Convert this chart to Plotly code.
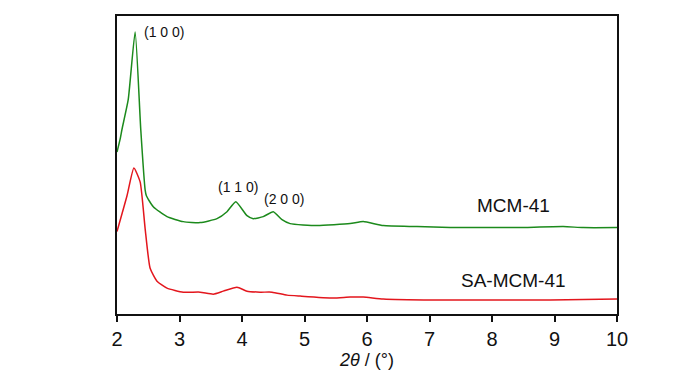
import plotly.graph_objects as go

# values (2theta in degrees, intensity in arbitrary units)
mcm_x = [2.00, 2.05, 2.08, 2.18, 2.29, 2.38, 2.45, 2.47, 2.58, 2.80, 3.06, 3.33, 3.60, 3.76, 3.90,
         4.08, 4.18, 4.34, 4.50, 4.64, 4.77, 5.20, 5.73, 5.94, 6.26, 6.80, 7.33, 7.86, 8.40, 9.14, 9.46, 10.0]
mcm_y = [163, 176, 186, 216, 284, 186, 125, 119, 108, 98, 93, 92, 96, 103, 113,
         99, 96, 98, 103, 95, 91, 89, 91, 93, 89, 88, 87, 87, 87, 88, 87, 87]

sa_x = [2.00, 2.16, 2.27, 2.37, 2.45, 2.53, 2.64, 2.80, 3.06, 3.33, 3.54, 3.70, 3.92, 4.08, 4.29,
        4.48, 4.72, 4.93, 5.46, 5.73, 5.94, 6.26, 7.06, 7.86, 8.93, 10.0]
sa_y = [83, 119, 147, 133, 86, 46, 33, 26, 22, 22, 20, 23, 27, 23, 22,
        22, 19, 18, 16, 17, 17, 15, 14, 14, 14, 15]

ann_text = ["(1 0 0)", "(1 1 0)", "(2 0 0)", "MCM-41", "SA-MCM-41"]
ann_x = [2.40, 3.94, 4.67, 8.34, 8.34]
ann_y = [284, 128, 116, 109, 34]
ann_size = [14, 14, 14, 19, 19]
ann_anchor = ["left", "center", "center", "center", "center"]

FONT = "Liberation Sans, Arial, sans-serif"

fig = go.Figure()
fig.add_trace(go.Scatter(x=mcm_x, y=mcm_y, mode="lines",
                         line=dict(color="#1c8a1c", width=1.5, shape="spline", smoothing=0.5),
                         name="MCM-41", showlegend=False))
fig.add_trace(go.Scatter(x=sa_x, y=sa_y, mode="lines",
                         line=dict(color="#e3161d", width=1.5, shape="spline", smoothing=0.5),
                         name="SA-MCM-41", showlegend=False))

for t, x, y, s, a in zip(ann_text, ann_x, ann_y, ann_size, ann_anchor):
    fig.add_annotation(x=x, y=y, text=t, showarrow=False, xanchor=a, yanchor="middle",
                       font=dict(size=s, color="#111111", family=FONT))

fig.update_layout(
    width=700, height=375,
    margin=dict(l=117, r=83, t=16, b=59),
    paper_bgcolor="white", plot_bgcolor="white",
    font=dict(family=FONT, color="#111111"),
    xaxis=dict(range=[2, 10], tickvals=[2, 3, 4, 5, 6, 7, 8, 9, 10], ticks="outside", ticklen=6, tickwidth=1.5,
               tickcolor="#111111", showline=True, linecolor="#111111", linewidth=2, mirror=True,
               showgrid=False, zeroline=False, tickfont=dict(size=20),
               title=dict(text="<i>2θ</i> / (°)", font=dict(size=18), standoff=0)),
    yaxis=dict(range=[0, 300], showticklabels=False, ticks="", showline=True, linecolor="#111111", linewidth=2,
               mirror=True, showgrid=False, zeroline=False),
)

fig.write_html("out.html", config={"displayModeBar": False},
               post_script="document.body.style.margin='0';")
